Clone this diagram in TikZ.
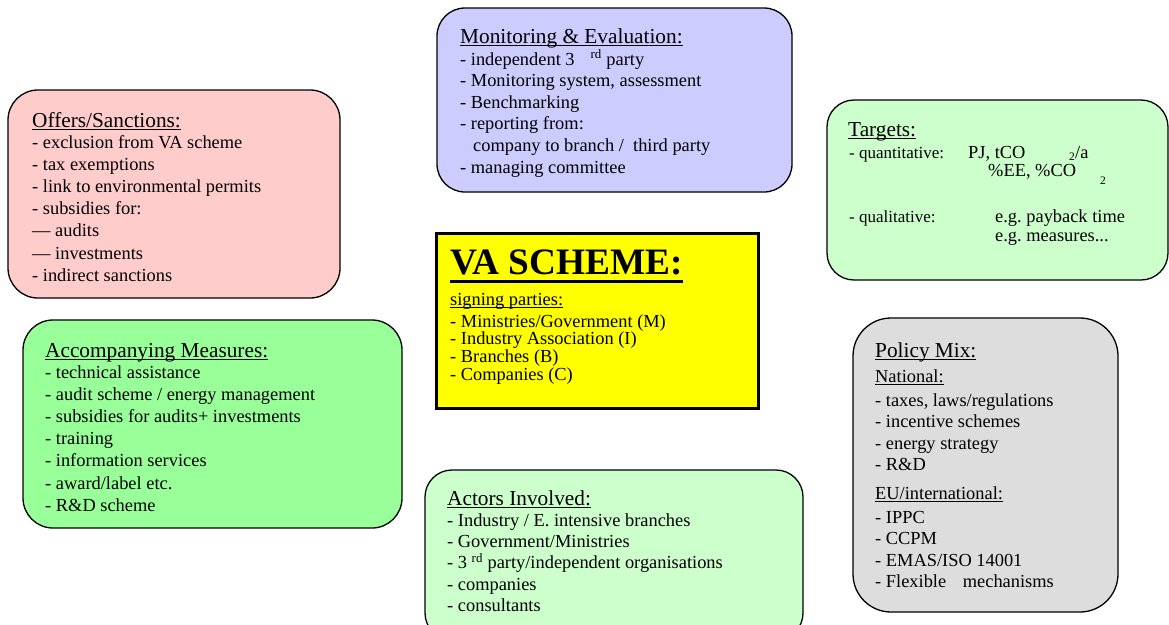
\documentclass[tikz,border=0pt]{standalone}
\usepackage{fontspec}
\setmainfont{Liberation Serif}
\frenchspacing
\newcommand{\ulin}[3]{\setbox0=\hbox{#3}\rlap{\rule[-#1]{\wd0}{#2}}\box0}
\newcommand{\txtlines}[1]{\begin{tabular}[t]{@{}l@{}}#1\end{tabular}}
\definecolor{offc}{RGB}{255,204,204}
\definecolor{monc}{RGB}{204,204,255}
\definecolor{tarc}{RGB}{204,255,204}
\definecolor{accc}{RGB}{153,255,153}
\definecolor{actc}{RGB}{204,255,204}
\definecolor{polc}{RGB}{221,221,221}
\definecolor{vac}{RGB}{255,255,0}
\begin{document}
\begin{tikzpicture}[x=1pt,y=-1pt,
  box/.style={draw=black, line width=1.3pt, rectangle, inner sep=0pt},
  ttl/.style={anchor=base west, inner sep=0pt, font=\fontsize{21.3}{25}\selectfont},
  txt/.style={anchor=base west, inner sep=0pt, font=\fontsize{18.4}{22.2}\selectfont},
  ttxt/.style={anchor=base west, inner sep=0pt, font=\fontsize{17}{20}\selectfont},
  sub/.style={anchor=base west, inner sep=0pt, font=\fontsize{11.5}{14}\selectfont}]
\useasboundingbox (0,0) rectangle (1169,624);
\clip (0,0) rectangle (1169,624);
\fill[white] (0,0) rectangle (1169,624);

% Offers / Sanctions
\node[box, fill=offc, rounded corners=30pt, minimum width=332pt, minimum height=208pt] (offers) at (174,194) {};
\node[ttl] (offersT) at (32,127) {\ulin{3pt}{1.2pt}{Offers/Sanctions:}};
\node[txt] (offersL) at (32,148) {\txtlines{- exclusion from VA scheme\\
- tax exemptions\\
- link to environmental permits\\
- subsidies for:\\
\textemdash{} audits\\
\textemdash{} investments\\
- indirect sanctions}};

% Monitoring & Evaluation
\node[box, fill=monc, rounded corners=28pt, minimum width=355pt, minimum height=184pt] (mon) at (614.5,100) {};
\node[ttl] (monT) at (460,43) {\ulin{3pt}{1.2pt}{Monitoring \& Evaluation:}};
\node[txt, font=\fontsize{18.4}{21.6}\selectfont] (monL) at (460,65) {\txtlines{- independent 3\hspace{16pt}\textsuperscript{rd} party\\
- Monitoring system, assessment\\
- Benchmarking\\
- reporting from:\\
\hspace{13pt}company to branch /\ \ third party\\
- managing committee}};

% Targets
\node[box, fill=tarc, rounded corners=27pt, minimum width=341pt, minimum height=180pt] (tar) at (997.5,190) {};
\node[ttl] (tarT) at (848,136) {\ulin{3pt}{1.2pt}{Targets:}};
\node[ttxt] (tq) at (849,158) {- quantitative:};
\node[txt] (tq1) at (968,158) {PJ, tCO};
\node[sub] (tq2a) at (1069,160.5) {2};
\node[txt] (tq2) at (1075,158) {/a};
\node[txt] (tq3) at (988,176) {\%EE, \%CO};
\node[sub] (tq4) at (1100,184) {2};
\node[ttxt] (tl) at (849,222.5) {- qualitative:};
\node[txt] (tl1) at (995,222.5) {e.g. payback time};
\node[txt] (tl2) at (995,241.5) {e.g. measures...};

% VA Scheme
\node[draw=black, line width=3.3pt, fill=vac, rectangle, inner sep=0pt, minimum width=322pt, minimum height=175pt] (va) at (597.5,321) {};
\node[anchor=base west, inner sep=0pt, font=\fontsize{37.3}{40}\selectfont\bfseries] (vaT) at (450,274) {\ulin{8.8pt}{3.3pt}{VA SCHEME:}};
\node[txt] (vaS) at (450,305) {\ulin{2.8pt}{1.1pt}{signing parties:}};
\node[txt, font=\fontsize{18.4}{17.3}\selectfont] (vaL) at (450,327) {\txtlines{- Ministries/Government (M)\\
- Industry Association (I)\\
- Branches (B)\\
- Companies (C)}};

% Accompanying Measures
\node[box, fill=accc, rounded corners=30pt, minimum width=379pt, minimum height=208pt] (acc) at (212.5,424) {};
\node[ttl] (accT) at (45,357) {\ulin{3pt}{1.2pt}{Accompanying Measures:}};
\node[txt] (accL) at (45,378) {\txtlines{- technical assistance\\
- audit scheme / energy management\\
- subsidies for audits+ investments\\
- training\\
- information services\\
- award/label etc.\\
- R\&D scheme}};

% Actors Involved
\node[box, fill=actc, rounded corners=27pt, minimum width=378pt, minimum height=170pt] (act) at (614,555) {};
\node[ttl] (actT) at (447,505) {\ulin{3pt}{1.2pt}{Actors Involved:}};
\node[txt, font=\fontsize{18.4}{21.3}\selectfont] (actL) at (447,526) {\txtlines{- Industry / E. intensive branches\\
- Government/Ministries\\
- 3 \textsuperscript{rd} party/independent organisations\\
- companies\\
- consultants}};

% Policy Mix
\node[box, fill=polc, rounded corners=38pt, minimum width=265pt, minimum height=294pt] (pol) at (985.5,465) {};
\node[ttl] (polT) at (875,357) {\ulin{3pt}{1.2pt}{Policy Mix:}};
\node[txt] (polN) at (875,382) {\ulin{2.8pt}{1.3pt}{National:}};
\node[txt, font=\fontsize{18.4}{21.6}\selectfont] (polNL) at (875,406) {\txtlines{- taxes, laws/regulations\\
- incentive schemes\\
- energy strategy\\
- R\&D}};
\node[txt] (polE) at (875,499) {\ulin{2.8pt}{1.1pt}{EU/international:}};
\node[txt, font=\fontsize{18.4}{21.5}\selectfont] (polEL) at (875,523) {\txtlines{- IPPC\\
- CCPM\\
- EMAS/ISO 14001\\
- Flexible\hspace{12pt} mechanisms}};
\end{tikzpicture}
\end{document}
